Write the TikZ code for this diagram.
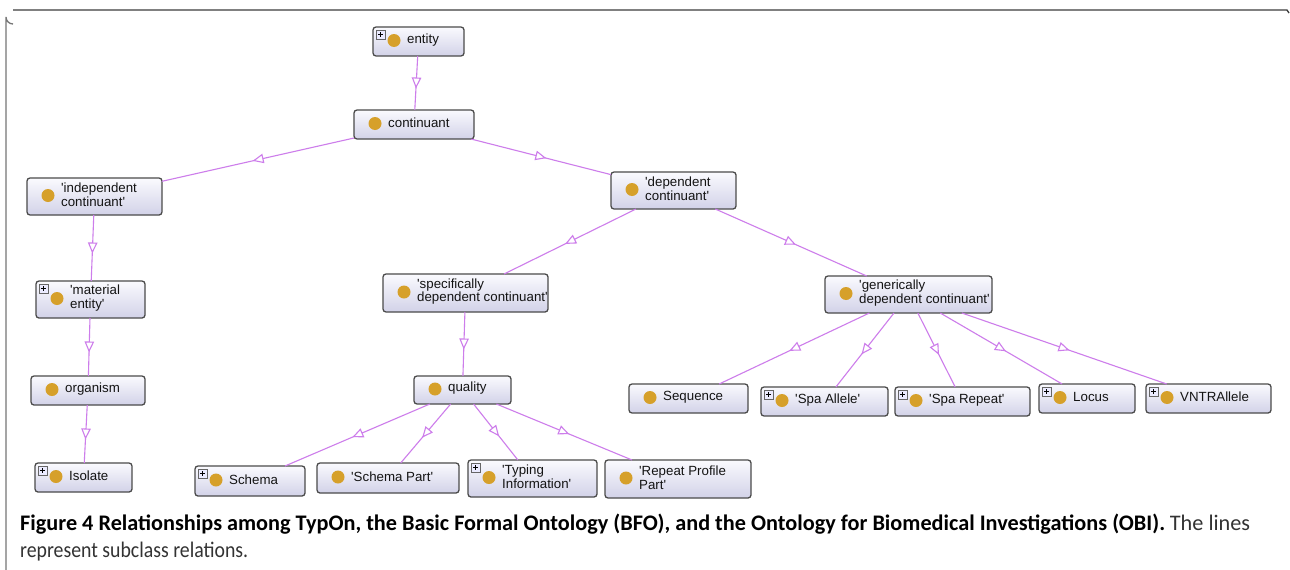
\documentclass[tikz,border=0pt]{standalone}
\usepackage{fontspec}
\setmainfont{Liberation Sans}[Ligatures=TeXOff]
\newfontfamily\capfont{Carlito}
\usetikzlibrary{arrows.meta,decorations.markings}
\definecolor{edgec}{RGB}{205,125,235}
\definecolor{goldc}{RGB}{214,160,42}
\definecolor{bordc}{RGB}{75,75,75}
\definecolor{topc}{RGB}{250,250,254}
\definecolor{botc}{RGB}{210,210,232}
\definecolor{framec}{RGB}{60,60,60}
\newsavebox\capA
\newsavebox\capB
\tikzset{
 obox/.style={rectangle, rounded corners=3pt, draw=bordc, line width=1.3pt, top color=topc, bottom color=botc, inner sep=0pt, outer sep=0pt},
 olabel/.style={anchor=west, font=\fontsize{13.3}{13.8}\selectfont, align=left, inner sep=0pt, text=black!92},
 subc/.style={draw=edgec, line width=1.1pt, postaction={decorate}, decoration={markings, mark=at position 0.5 with {\arrow[xshift=5.5pt]{Triangle[length=11pt,width=9.5pt,fill=white,line width=1.1pt]}}}},
 pbox/.style={draw=black!60, fill=blue!8, line width=0.6pt},
 dotc/.style={fill=goldc},
}
\newcommand\obox[7]{%
 \node[obox, minimum width={#4-#2}, minimum height={#5-#3}] (#1) at ({(#2+#4)/2},{(#3+#5)/2}) {};
 \fill[dotc] ({#2+21},{(#3+#5)/2-1}) circle (6.5);
 \node[olabel] (#1-t) at ({#2+34},{(#3+#5)/2-1.5}) {#6};
 \ifnum#7=1
 \draw[pbox] ({#2+3},{#3+3}) rectangle ({#2+12},{#3+12});
 \draw[line width=0.8pt] ({#2+5},{#3+7.5}) -- ({#2+10},{#3+7.5}) ({#2+7.5},{#3+5}) -- ({#2+7.5},{#3+10});
 \fi
}
\begin{document}
\sbox\capA{\capfont\fontsize{18}{18}\selectfont\textbf{Figure 4 Relationships among TypOn, the Basic Formal Ontology (BFO), and the Ontology for Biomedical Investigations (OBI).} {\color{black!80}The lines}}%
\sbox\capB{\capfont\fontsize{18}{18}\selectfont\color{black!80}represent subclass relations.}%
\begin{tikzpicture}[x=1pt,y=-1pt]
\useasboundingbox (0,0) rectangle (1290,570);
\fill[white] (0,0) rectangle (1290,570);
% frame
\draw[draw=framec!70, line width=1.3pt] (6,570) -- (6,17) arc[start angle=180, end angle=90, radius=7];
\draw[draw=framec, line width=1.3pt] (13,10) -- (1287,10) -- (1289,13);
% nodes
\obox{entity}{373}{27}{464}{56}{entity}{1}
\obox{continuant}{354}{110}{474}{139}{continuant}{0}
\obox{indep}{27}{178}{162}{215}{'independent\\continuant'}{0}
\obox{dep}{611}{172}{736}{209}{'dependent\\continuant'}{0}
\obox{material}{36}{281}{145}{318}{'material\\entity'}{1}
\obox{organism}{31}{376}{145}{405}{organism}{0}
\obox{isolate}{35}{463}{132}{492}{Isolate}{1}
\obox{specific}{383}{274}{548}{312}{'specifically\\dependent continuant'}{0}
\obox{quality}{414}{376}{511}{404}{quality}{0}
\obox{generic}{825}{276}{992}{313}{'generically\\dependent continuant'}{0}
\obox{sequence}{629}{384}{748}{413}{Sequence}{0}
\obox{spaallele}{761}{387}{888}{416}{'Spa Allele'}{1}
\obox{sparepeat}{895}{387}{1030}{416}{'Spa Repeat'}{1}
\obox{locus}{1039}{384}{1135}{413}{Locus}{1}
\obox{vntr}{1146}{384}{1271}{413}{VNTRAllele}{1}
\obox{schema}{195}{466}{305}{496}{Schema}{1}
\obox{schemapart}{317}{463}{459}{493}{'Schema Part'}{0}
\obox{typing}{468}{460}{597}{497}{'Typing\\Information'}{1}
\obox{repeat}{605}{460}{751}{498}{'Repeat Profile\\Part'}{0}
% edges
\draw[subc] (entity) -- (continuant);
\draw[subc] (continuant) -- (indep);
\draw[subc] (continuant) -- (dep);
\draw[subc] (indep) -- (material);
\draw[subc] (material) -- (organism);
\draw[subc] (organism) -- (isolate);
\draw[subc] (dep) -- (specific);
\draw[subc] (dep) -- (generic);
\draw[subc] (specific) -- (quality);
\draw[subc] (quality) -- (schema);
\draw[subc] (quality) -- (schemapart);
\draw[subc] (quality) -- (typing);
\draw[subc] (quality) -- (repeat);
\draw[subc] (generic) -- (sequence);
\draw[subc] (generic) -- (spaallele);
\draw[subc] (generic) -- (sparepeat);
\draw[subc] (generic) -- (locus);
\draw[subc] (generic) -- (vntr);
% caption
\pgfmathsetmacro\capsc{1230/\wd\capA}
\pgfmathsetmacro\capscb{228/\wd\capB}
\node[anchor=base west, inner sep=0pt] (cap1) at (20,530) {\scalebox{\capsc}[\capsc]{\usebox\capA}};
\node[anchor=base west, inner sep=0pt] (cap2) at (20,557) {\scalebox{\capscb}[\capsc]{\usebox\capB}};
\end{tikzpicture}
\end{document}
